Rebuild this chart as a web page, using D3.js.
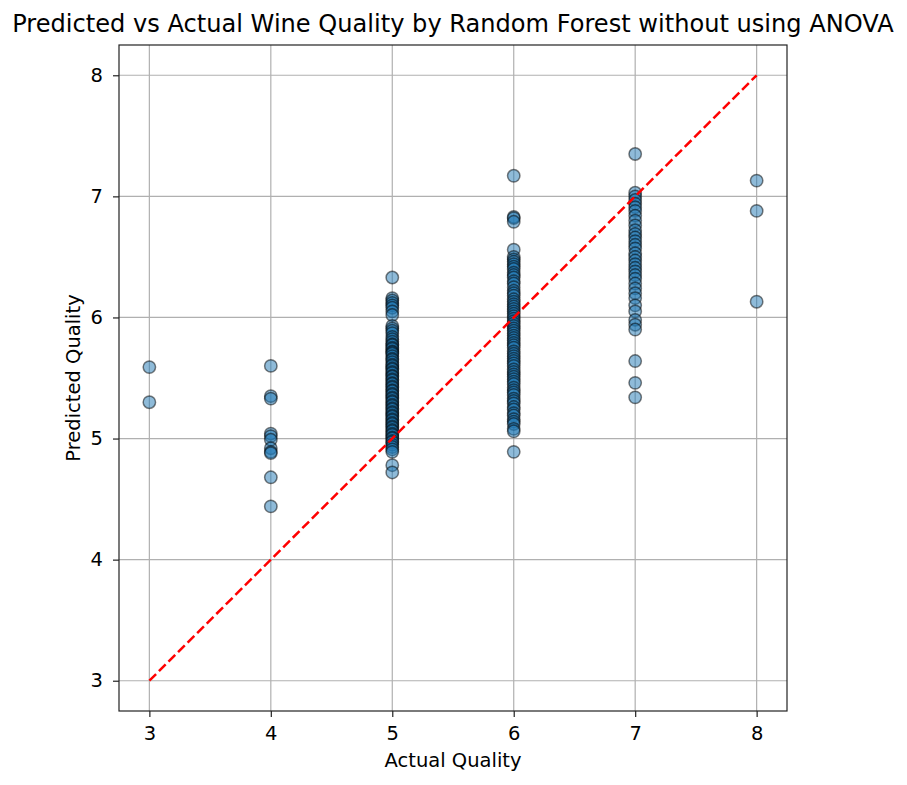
<!DOCTYPE html>
<html>
<head>
<meta charset="utf-8">
<script src="https://cdn.jsdelivr.net/npm/d3@7"></script>
<style>
  body { margin: 0; background: #fff; }
  svg text { font-family: "DejaVu Sans", sans-serif; fill: #000; }
</style>
</head>
<body>
<div id="chart"></div>
<script>
'use strict';

// predicted values grouped by the actual quality they belong to
var pred3 = [5.59, 5.30];
var pred4 = [5.60, 5.35, 5.33, 5.04, 5.02, 4.99, 4.92, 4.89, 4.88, 4.68, 4.44];
var pred5 = [6.33, 6.16, 6.14, 6.12, 6.10, 6.08, 6.05, 6.02, 5.93, 5.91, 5.89, 5.87,
  5.84, 5.82, 5.80, 5.78, 5.77, 5.75, 5.74, 5.72, 5.71, 5.70, 5.68, 5.66, 5.65, 5.63,
  5.61, 5.60, 5.58, 5.57, 5.55, 5.54, 5.52, 5.51, 5.49, 5.48, 5.46, 5.45, 5.43, 5.42,
  5.40, 5.39, 5.37, 5.36, 5.34, 5.33, 5.31, 5.30, 5.28, 5.27, 5.25, 5.24, 5.22, 5.21,
  5.19, 5.18, 5.16, 5.15, 5.13, 5.12, 5.10, 5.09, 5.07, 5.06, 5.04, 5.03, 5.01, 5.00,
  4.98, 4.97, 4.95, 4.93, 4.91, 4.89, 4.78, 4.72];
var pred6 = [7.17, 6.83, 6.82, 6.79, 6.56, 6.50, 6.48, 6.46, 6.44, 6.42, 6.40, 6.37,
  6.35, 6.33, 6.30, 6.28, 6.25, 6.22, 6.20, 6.18, 6.15, 6.13, 6.11, 6.09, 6.07, 6.05,
  6.03, 6.01, 5.99, 5.97, 5.95, 5.93, 5.91, 5.89, 5.87, 5.85, 5.83, 5.81, 5.79, 5.77,
  5.75, 5.72, 5.70, 5.68, 5.66, 5.64, 5.62, 5.60, 5.57, 5.55, 5.53, 5.51, 5.49, 5.47,
  5.45, 5.42, 5.40, 5.38, 5.36, 5.33, 5.31, 5.29, 5.26, 5.24, 5.21, 5.19, 5.16, 5.14,
  5.12, 5.08, 5.06, 4.89];
var pred7 = [7.35, 7.03, 7.00, 6.97, 6.94, 6.91, 6.88, 6.84, 6.80, 6.76, 6.72, 6.69,
  6.66, 6.63, 6.60, 6.57, 6.53, 6.50, 6.47, 6.44, 6.41, 6.38, 6.35, 6.32, 6.28, 6.24,
  6.20, 6.16, 6.10, 6.05, 5.98, 5.94, 5.90, 5.64, 5.46, 5.34];
var pred8 = [7.13, 6.88, 6.13];

var actualLevels = [3, 4, 5, 6, 7, 8];
var tickValues = [3, 4, 5, 6, 7, 8];
var predGroups = [pred3, pred4, pred5, pred6, pred7, pred8];

var chartTitle = 'Predicted vs Actual Wine Quality by Random Forest without using ANOVA';

var width = 907, height = 785;
var margin = {top: 45, right: 120, bottom: 74, left: 119};

var svg = d3.select('#chart').append('svg')
    .attr('width', width)
    .attr('height', height);

var x = d3.scaleLinear().domain([2.75, 8.25]).range([margin.left, width - margin.right]);
var y = d3.scaleLinear().domain([2.75, 8.25]).range([height - margin.bottom, margin.top]);

//flatten the groups into points
var points = [];
predGroups.forEach(function(group, i) {
    group.forEach(function(v) {
        points.push({actual: actualLevels[i], predicted: v});
    });
});

//grid lines
svg.append('g')
    .selectAll('line')
    .data(tickValues)
    .enter().append('line')
    .attr('x1', (d) => x(d)).attr('x2', (d) => x(d))
    .attr('y1', margin.top).attr('y2', height - margin.bottom)
    .attr('stroke', '#b0b0b0').attr('stroke-width', 1.2);

svg.append('g')
    .selectAll('line')
    .data(tickValues)
    .enter().append('line')
    .attr('y1', (d) => y(d)).attr('y2', (d) => y(d))
    .attr('x1', margin.left).attr('x2', width - margin.right)
    .attr('stroke', '#b0b0b0').attr('stroke-width', 1.2);

//scatter
svg.append('g')
    .selectAll('circle')
    .data(points)
    .enter().append('circle')
    .attr('cx', (d) => x(d.actual))
    .attr('cy', (d) => y(d.predicted))
    .attr('r', 6.2)
    .attr('fill', 'rgba(31,119,180,0.5)')
    .attr('stroke', 'rgba(0,0,0,0.5)')
    .attr('stroke-width', 1.5);

//perfect prediction line
svg.append('line')
    .attr('x1', x(3)).attr('y1', y(3))
    .attr('x2', x(8)).attr('y2', y(8))
    .attr('stroke', 'red')
    .attr('stroke-width', 2.5)
    .attr('stroke-dasharray', '9.5,4');

//axes
var xAxis = svg.append('g')
    .attr('transform', 'translate(0,' + (height - margin.bottom) + ')')
    .call(d3.axisBottom(x).tickValues(tickValues).tickSize(6).tickPadding(9).tickFormat(d3.format('d')));
var yAxis = svg.append('g')
    .attr('transform', 'translate(' + margin.left + ',0)')
    .call(d3.axisLeft(y).tickValues(tickValues).tickSize(6).tickPadding(10).tickFormat(d3.format('d')));

[xAxis, yAxis].forEach(function(a) {
    a.select('.domain').remove();
    a.selectAll('text').style('font-size', '19.5px').attr('fill', '#000');
    a.selectAll('line').attr('stroke', '#222').attr('stroke-width', 1.2);
});

//frame
svg.append('rect')
    .attr('x', margin.left).attr('y', margin.top)
    .attr('width', width - margin.left - margin.right)
    .attr('height', height - margin.top - margin.bottom)
    .attr('fill', 'none').attr('stroke', '#222').attr('stroke-width', 1.2);

//labels
svg.append('text')
    .attr('x', (margin.left + width - margin.right) / 2)
    .attr('y', 767)
    .attr('text-anchor', 'middle')
    .style('font-size', '19.5px')
    .text('Actual Quality');

svg.append('text')
    .attr('transform', 'translate(80,' + ((margin.top + height - margin.bottom) / 2) + ') rotate(-90)')
    .attr('text-anchor', 'middle')
    .style('font-size', '19.5px')
    .text('Predicted Quality');

svg.append('text')
    .attr('x', 453)
    .attr('y', 32)
    .attr('text-anchor', 'middle')
    .style('font-size', '24.1px')
    .text(chartTitle);
</script>
</body>
</html>
